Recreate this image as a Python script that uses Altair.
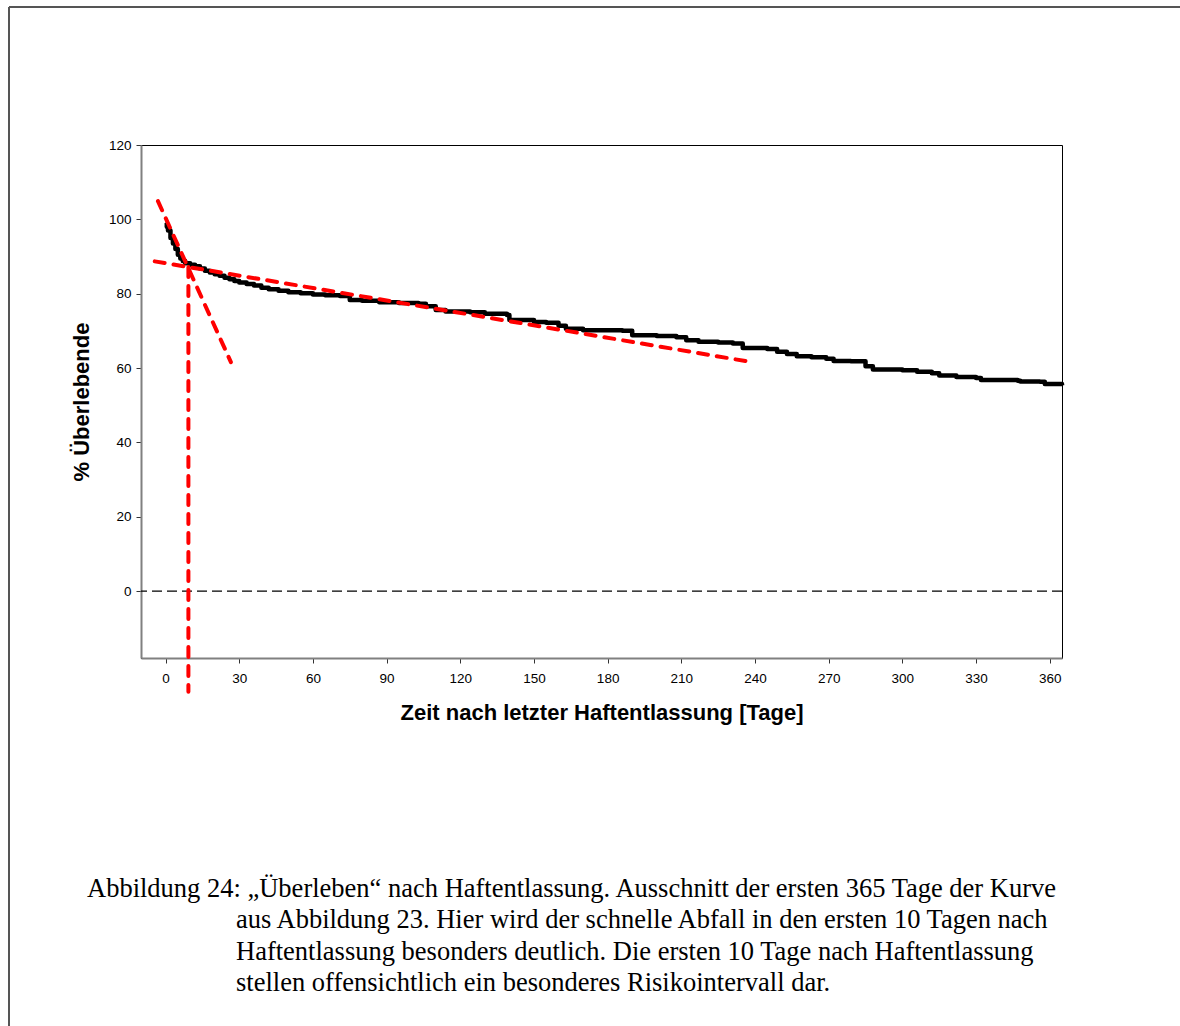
import altair as alt
import pandas as pd

# ---- data ----
days = [0, 0.5, 1, 2, 3, 4, 5, 6, 7, 8, 10, 12, 14, 16, 18, 20, 22, 24, 26, 28,
        30, 33, 36, 39, 42, 46, 50, 55, 60, 65, 71, 75, 80, 87, 95, 103, 106, 110,
        114, 124, 130, 139, 140, 150, 155, 160, 163, 170, 186, 190, 200, 208, 212,
        217, 225, 231, 235, 245, 249, 253, 257, 263, 269, 272, 279, 285, 288, 300,
        306, 312, 315, 322, 330, 332, 347, 348, 356, 358, 365]
survival = [99.0, 98.0, 97.0, 95.0, 93.5, 92.0, 90.5, 89.5, 88.8, 88.2, 87.8, 87.4,
            86.8, 86.2, 85.7, 85.2, 84.8, 84.3, 83.9, 83.4, 83.0, 82.6, 82.2, 81.6,
            81.2, 80.8, 80.4, 80.1, 79.8, 79.6, 79.4, 78.3, 78.1, 77.7, 77.5, 77.3,
            76.6, 75.6, 75.2, 75.0, 74.6, 74.3, 72.9, 72.4, 72.2, 71.4, 70.6, 70.2,
            70.0, 68.8, 68.6, 68.3, 67.5, 67.1, 66.9, 66.6, 65.4, 65.1, 64.4, 63.8,
            63.2, 62.9, 62.5, 61.9, 61.8, 60.5, 59.6, 59.4, 59.0, 58.6, 58.0, 57.6,
            57.3, 56.8, 56.6, 56.4, 56.3, 55.7, 55.4]

# hand-drawn red guide lines (start/end in data units)
guide_ids = ["steep", "steep", "flat", "flat", "vertical", "vertical"]
guide_x = [-3.1, 26.6, -4.4, 238.7, 9.3, 9.3]
guide_y = [104.9, 61.6, 88.7, 61.6, 87.2, -27.1]

x_ticks = list(range(0, 361, 30))
y_ticks = list(range(0, 121, 20))
x_domain = [-10, 365]
y_domain = [-18, 120]

x_title = "Zeit nach letzter Haftentlassung [Tage]"
y_title = "% Überlebende"
caption_lines = [
    "Abbildung 24: \u201eÜberleben\u201c nach Haftentlassung. Ausschnitt der ersten 365 Tage der Kurve",
    "aus Abbildung 23. Hier wird der schnelle Abfall in den ersten 10 Tagen nach",
    "Haftentlassung besonders deutlich. Die ersten 10 Tage nach Haftentlassung",
    "stellen offensichtlich ein besonderes Risikointervall dar.",
]

# ---- chart ----
PL, PT, W, H = 141, 145, 921, 513

curve_df = pd.DataFrame({"day": days, "surv": survival})
guide_df = pd.DataFrame({"id": guide_ids, "day": guide_x, "surv": guide_y})
zero_df = pd.DataFrame({"surv": [0]})
one = pd.DataFrame({"a": [0]})

xs = alt.Scale(domain=x_domain, nice=False, zero=False)
ys = alt.Scale(domain=y_domain, nice=False, zero=False)

x_axis = alt.Axis(values=x_ticks, title=x_title, grid=False, tickSize=5,
                  labelPadding=8, titlePadding=18)
y_axis = alt.Axis(values=y_ticks, title=y_title, grid=False, tickSize=5,
                  labelPadding=5, titlePadding=15)

zero_line = alt.Chart(zero_df).mark_rule(color="black", strokeWidth=1.2,
                                         strokeDash=[10, 5]).encode(
    y=alt.Y("surv:Q", scale=ys))

curve = alt.Chart(curve_df).mark_line(interpolate="step-after", color="black",
                                      strokeWidth=4.5, strokeJoin="round").encode(
    x=alt.X("day:Q", scale=xs, axis=x_axis),
    y=alt.Y("surv:Q", scale=ys, axis=y_axis),
)

guides = alt.Chart(guide_df).mark_line(color="#ff0000", strokeWidth=4,
                                       strokeDash=[10, 9], strokeCap="round",
                                       clip=False).encode(
    x=alt.X("day:Q", scale=xs),
    y=alt.Y("surv:Q", scale=ys),
    detail="id:N",
)

frame_top = alt.Chart(one).mark_rule(color="#555555", strokeWidth=2).encode(
    x=alt.value(9 - PL), x2=alt.value(1180 - PL), y=alt.value(7 - PT))
frame_left = alt.Chart(one).mark_rule(color="#555555", strokeWidth=2).encode(
    x=alt.value(9 - PL), y=alt.value(7 - PT), y2=alt.value(1026 - PT))

caption_layers = []
cap_x = [87, 236, 236, 236]
cap_y = [889, 920, 952, 983]
for txt, cx, cy in zip(caption_lines, cap_x, cap_y):
    caption_layers.append(
        alt.Chart(one).mark_text(align="left", baseline="middle",
                                 font="Liberation Serif", fontSize=26.5,
                                 color="black").encode(
            x=alt.value(cx - PL), y=alt.value(cy - PT), text=alt.value(txt)))

chart = alt.layer(zero_line, curve, guides, frame_top, frame_left, *caption_layers).properties(
    width=W, height=H,
    padding={"left": PL, "top": PT, "right": 1180 - PL - W, "bottom": 1026 - PT - H},
    autosize=alt.AutoSizeParams(type="none"),
    background="white",
).configure_view(
    stroke="black", strokeWidth=1
).configure_axis(
    domainColor="#808080", domainWidth=2, tickColor="#333333", tickWidth=1,
    labelFont="Liberation Sans", labelFontSize=13.5, labelColor="black",
    titleFont="Liberation Sans", titleFontSize=22, titleFontWeight="bold",
    titleColor="black",
)

chart.save("out.html", embed_options={"renderer": "svg", "actions": False})
